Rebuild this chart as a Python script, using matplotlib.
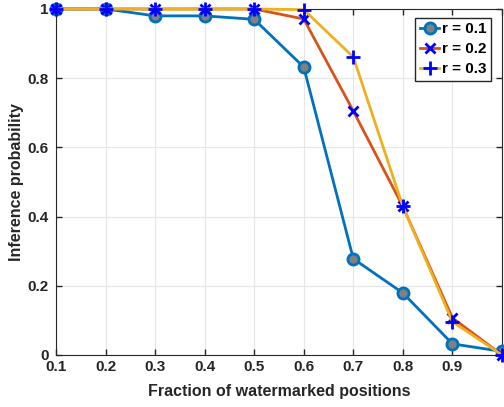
import matplotlib.pyplot as plt

plt.rcParams['font.family'] = ['Liberation Sans', 'DejaVu Sans']
plt.rcParams['font.weight'] = 'bold'

fraction = [0.1, 0.2, 0.3, 0.4, 0.5, 0.6, 0.7, 0.8, 0.9, 1.0]
prob_r01 = [1.0, 1.0, 0.98, 0.98, 0.97, 0.832, 0.278, 0.179, 0.032, 0.01]
prob_r02 = [1.0, 1.0, 1.0, 1.0, 1.0, 0.971, 0.705, 0.429, 0.107, 0.0]
prob_r03 = [1.0, 1.0, 1.0, 1.0, 1.0, 0.998, 0.861, 0.429, 0.096, 0.0]
labels = ['r = 0.1', 'r = 0.2', 'r = 0.3']

fig = plt.figure(figsize=(5.04, 4.07), dpi=100)
ax = fig.add_axes([0.111, 0.128, 0.885, 0.85])

ax.plot(fraction, prob_r01, color='#0072BD', lw=2, marker='o', ms=8,
        mfc='#808080', mec='#0072BD', mew=2, label=labels[0], clip_on=False, zorder=3)
ax.plot(fraction, prob_r02, color='#D95319', lw=2, marker='x', ms=7,
        mec='#0000FF', mew=2, label=labels[1], clip_on=False, zorder=3)
ax.plot(fraction, prob_r03, color='#EDB120', lw=2, marker='+', ms=10,
        mec='#0000FF', mew=2, label=labels[2], clip_on=False, zorder=3)

ax.set_xlim(0.1, 1.0)
ax.set_ylim(0, 1)
ax.set_xticks(fraction)
ax.set_xticklabels(['0.1', '0.2', '0.3', '0.4', '0.5', '0.6', '0.7', '0.8', '0.9', ''])
ax.set_yticks([0, 0.2, 0.4, 0.6, 0.8, 1.0])
ax.set_yticklabels(['0', '0.2', '0.4', '0.6', '0.8', '1'])
ax.tick_params(direction='in', top=True, right=True, length=4, labelsize=11,
               colors='#262626', width=1)
ax.tick_params(axis='y', pad=5)
ax.tick_params(axis='x', pad=4)
for s in ax.spines.values():
    s.set_color('#262626')
ax.grid(True, color='#e6e6e6', lw=0.8)
ax.set_axisbelow(True)

ax.set_xlabel('Fraction of watermarked positions', fontsize=11.5, fontweight='bold', color='#262626', labelpad=7)
ax.set_ylabel('Inference probability', fontsize=11.5, fontweight='bold', color='#262626', labelpad=3)

leg = ax.legend(loc='upper right', fontsize=11, handlelength=1.3, handletextpad=0.15,
                borderpad=0.3, labelspacing=0.4, fancybox=False, framealpha=1,
                borderaxespad=0, bbox_to_anchor=(0.975, 0.975))
leg.get_frame().set_edgecolor('#262626')
leg.get_frame().set_linewidth(1)

fig.savefig('out.png', dpi=100)
